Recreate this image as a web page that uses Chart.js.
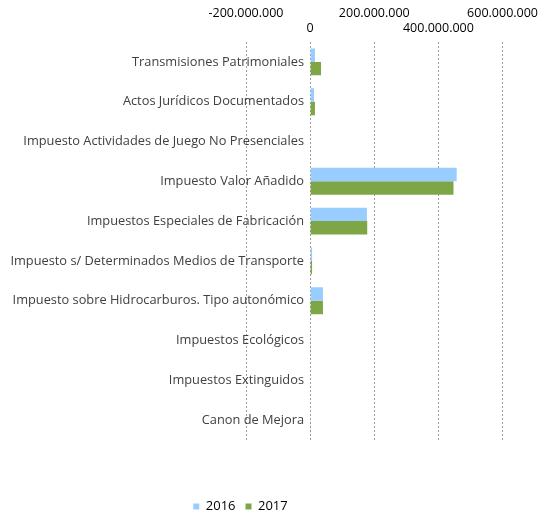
<!DOCTYPE html>
<html>
<head>
<meta charset="utf-8">
<script src="https://cdn.jsdelivr.net/npm/chart.js@4/dist/chart.umd.min.js"></script>
<style>
  html, body { margin: 0; padding: 0; background: #fff; }
  #wrap { width: 544px; height: 517px; }
</style>
</head>
<body>
<div id="wrap"><canvas id="chart"></canvas></div>
<script>
// Categories and yearly values (euros)
const categories = [
  "Transmisiones Patrimoniales",
  "Actos Jurídicos Documentados",
  "Impuesto Actividades de Juego No Presenciales",
  "Impuesto Valor Añadido",
  "Impuestos Especiales de Fabricación",
  "Impuesto s/ Determinados Medios de Transporte",
  "Impuesto sobre Hidrocarburos. Tipo autonómico",
  "Impuestos Ecológicos",
  "Impuestos Extinguidos",
  "Canon de Mejora"
]
const values2016 = [15000000, 12000000, 1500000, 457000000, 177000000, 6000000, 40000000, 1000000, 0, 1000000]
const values2017 = [34000000, 15000000, 1500000, 447000000, 178000000, 6000000, 40000000, 1000000, 0, 1000000]
const seriesLabels = ["2016", "2017"]
const seriesColors = ["#99CCFF", "#7EA646"]

// x axis: -200M .. 600M every 200M
const xMin = -200000000
const xMax = 600000000
const xStep = 200000000

// 200000000 -> "200.000.000"
function formatNumber(v) {
  const s = Math.abs(v).toFixed(0).replace(/\B(?=(\d{3})+(?!\d))/g, ".")
  return (v < 0 ? "-" : "") + s
}

// category labels sit over the negative part of the plot, so don't clip them,
// and put the legend where the original has it
const layoutTweaks = {
  id: "layoutTweaks",
  afterLayout(chart) {
    const lg = chart.legend
    const dx = -11
    const dy = 490 - lg.top
    lg.left += dx
    lg.right += dx
    lg.top += dy
    lg.bottom += dy
    chart.scales.y._computeLabelArea = () => undefined
  },
}

const ctx = document.getElementById("chart").getContext("2d")

new Chart(ctx, {
  type: "bar",
  data: {
    labels: categories,
    datasets: [
      {
        label: seriesLabels[0],
        data: values2016,
        backgroundColor: seriesColors[0],
      },
      {
        label: seriesLabels[1],
        data: values2017,
        backgroundColor: seriesColors[1],
      },
    ],
  },
  plugins: [layoutTweaks],
  options: {
    indexAxis: "y",
    responsive: true,
    maintainAspectRatio: false,
    animation: false,
    layout: {
      padding: { left: 0, right: 41, top: 0, bottom: 44 },
    },
    datasets: {
      bar: {
        categoryPercentage: 0.675,
        barPercentage: 1,
      },
    },
    scales: {
      x: {
        position: "top",
        min: xMin,
        max: xMax,
        afterFit: (scale) => {
          scale.height = 42
        },
        ticks: {
          stepSize: xStep,
          autoSkip: false,
          maxRotation: 0,
          padding: 6,
          color: "#000",
          font: { family: "Open Sans", size: 12.5, lineHeight: 1.2 },
          // stagger labels over two rows like the original
          callback: (value, index) => {
            const text = formatNumber(value)
            return index % 2 === 0 ? [text, ""] : ["", text]
          },
        },
        grid: {
          color: "#9a9a9a",
          drawTicks: false,
        },
        border: { display: false, dash: [2, 2] },
      },
      y: {
        afterFit: (scale) => {
          scale.width = 246
        },
        ticks: {
          // labels sit next to the zero line, over the negative side
          padding: -58,
          color: "#404040",
          font: { family: "Open Sans", size: 12.8 },
        },
        grid: { display: false, drawTicks: false },
        border: { display: false },
      },
    },
    plugins: {
      legend: {
        position: "bottom",
        labels: {
          boxWidth: 6,
          boxHeight: 6,
          padding: 10,
          color: "#000",
          font: { family: "Open Sans", size: 13 },
        },
      },
      tooltip: { enabled: false },
    },
  },
})
</script>
</body>
</html>
